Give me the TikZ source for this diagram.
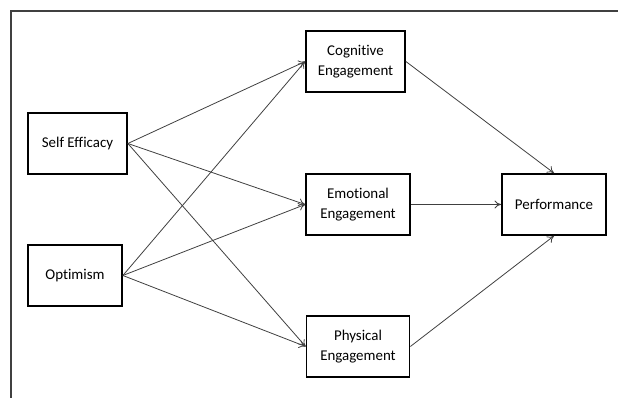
\documentclass[tikz,border=0pt]{standalone}
\usepackage{fontspec}
\setmainfont{Carlito}[Ligatures=NoCommon]
\usetikzlibrary{arrows.meta}
\begin{document}
\begin{tikzpicture}[x=0.75pt,y=-0.75pt,
  box/.style={draw=black, line width=1.3pt, inner sep=0pt, align=center,
    minimum height=61*0.75pt, font=\fontsize{11.2}{15}\selectfont},
  link/.style={draw=black!75, line width=0.6pt, -{To[length=5pt,width=6pt]}},
  frame/.style={draw=black!75, line width=1pt}]
\useasboundingbox (0,0) rectangle (618,398);
\draw[frame] (11,398) -- (11,11) -- (618,11);
\node[box, minimum width=99*0.75pt] (se) at (77.5,143.5) {Self Efficacy};
\node[box, minimum width=94*0.75pt] (op) at (75,275.5) {Optimism};
\node[box, minimum width=99*0.75pt] (cg) at (355.5,61.5) {Cognitive\\Engagement};
\node[box, minimum width=104*0.75pt] (em) at (358,204.5) {Emotional\\Engagement};
\node[box, minimum width=103*0.75pt] (ph) at (358,346.5) {Physical\\Engagement};
\node[box, minimum width=104*0.75pt] (pf) at (554,204.5) {Performance};
\foreach \s in {se,op}{
  \foreach \t in {cg,em,ph}{
    \draw[link] (\s.east) -- (\t.west);
  }
}
\draw[link] (cg.east) -- (pf.north);
\draw[link] (em.east) -- (pf.west);
\draw[link] (ph.east) -- (pf.south);
\end{tikzpicture}
\end{document}
